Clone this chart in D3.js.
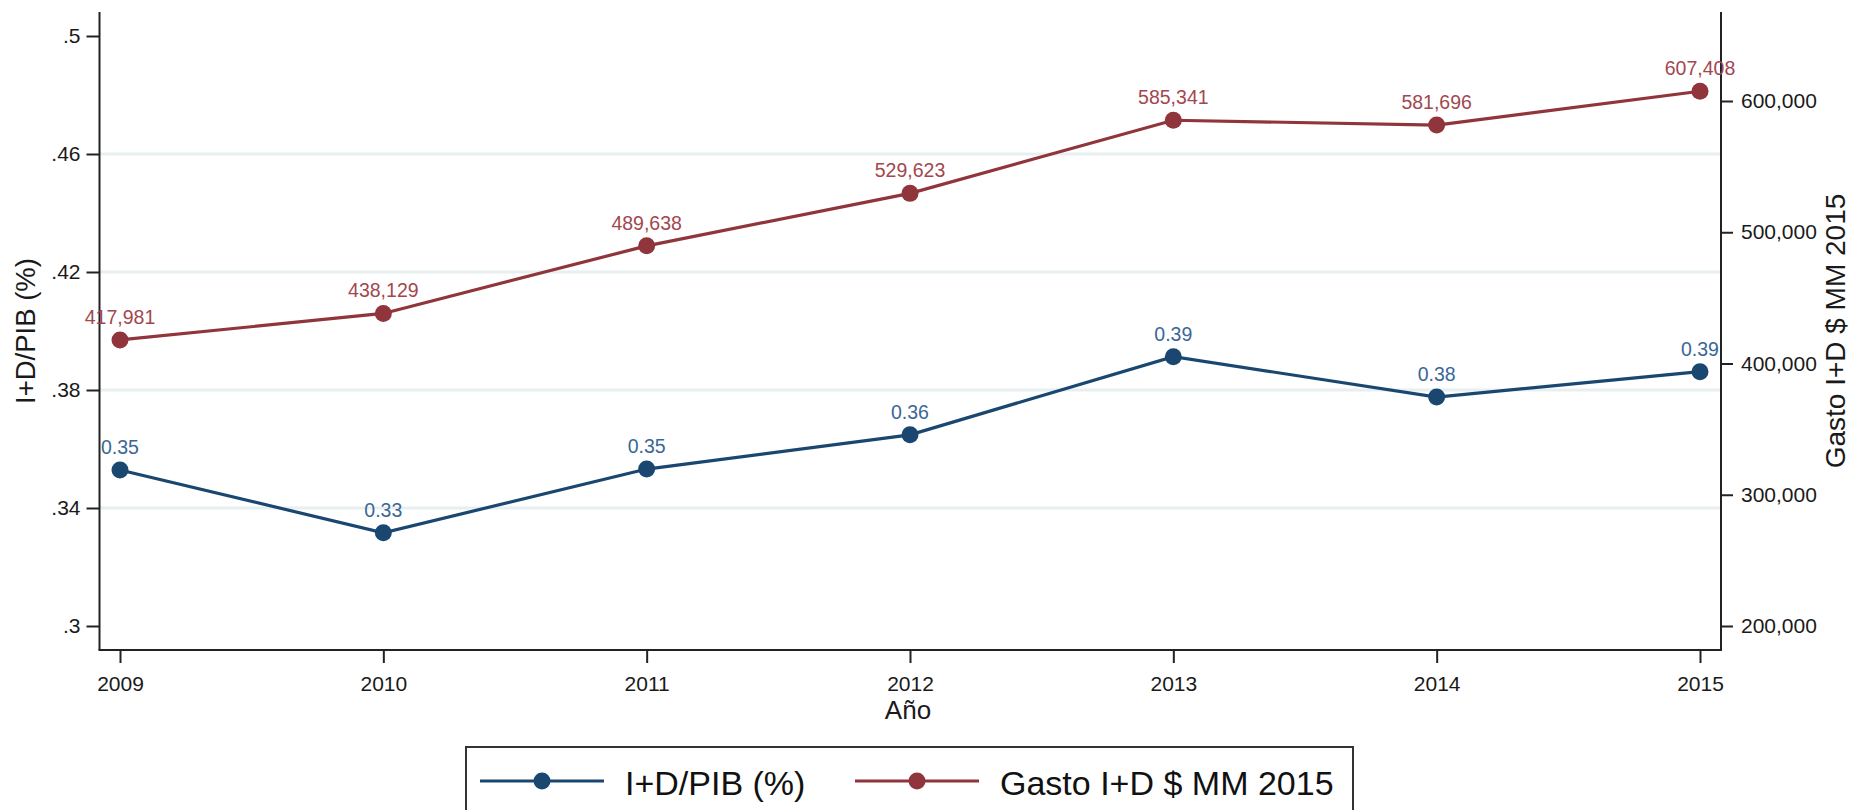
<!DOCTYPE html>
<html>
<head>
<meta charset="utf-8">
<script src="https://cdn.jsdelivr.net/npm/d3@7"></script>
<style>
  html, body { margin: 0; padding: 0; background: #fff; }
  svg { display: block; font-family: "Liberation Sans", Arial, sans-serif; }
</style>
</head>
<body>
<svg id="chart" width="1850" height="810"></svg>
<script>
// ── Data ──────────────────────────────────────────────────────────
const years      = [2009, 2010, 2011, 2012, 2013, 2014, 2015];
const ratioPIB   = [0.3529, 0.3316, 0.3532, 0.3648, 0.3913, 0.3776, 0.3862];
const gastoID    = [417981, 438129, 489638, 529623, 585341, 581696, 607408];
const leftTicks  = [0.3, 0.34, 0.38, 0.42, 0.46, 0.5];
const rightTicks = [200000, 300000, 400000, 500000, 600000];

const BLUE = "#1a476f", RED = "#90353b";
const BLUE_LBL = "#3a6796", RED_LBL = "#a2474f";

// ── Layout ────────────────────────────────────────────────────────
const plot = { left: 99.5, right: 1721, top: 12, bottom: 650 };

const svg = d3.select("#chart");

const x  = d3.scaleLinear().domain([2009, 2015]).range([120, 1700]);
const yL = d3.scaleLinear().domain([0.3, 0.5]).range([626, 36]);
const yR = d3.scaleLinear().domain([200000, 600000]).range([626, 101]);

// gridlines (inner left ticks only)
svg.append("g")
  .selectAll("line")
  .data(leftTicks.slice(1, -1))
  .join("line")
    .attr("x1", plot.left).attr("x2", plot.right)
    .attr("y1", d => yL(d)).attr("y2", d => yL(d))
    .attr("stroke", "#e8eff1")
    .attr("stroke-width", 3);

// ── Axes ─────────────────────────────────────────────────────────
const leftFmt = d => d3.format(".2~f")(d).replace(/^0/, "");

const gL = svg.append("g")
  .attr("transform", `translate(${plot.left},0)`)
  .call(d3.axisLeft(yL).tickValues(leftTicks).tickFormat(leftFmt).tickSize(13).tickPadding(6));

const gR = svg.append("g")
  .attr("transform", `translate(${plot.right},0)`)
  .call(d3.axisRight(yR).tickValues(rightTicks).tickFormat(d3.format(",")).tickSize(12).tickPadding(8));

const gX = svg.append("g")
  .attr("transform", `translate(0,${plot.bottom})`)
  .call(d3.axisBottom(x).tickValues(years).tickFormat(d3.format("d")).tickSize(13).tickPadding(13));

[gL, gR, gX].forEach(g => {
  g.select(".domain").remove();
  g.selectAll(".tick line").attr("stroke", "#222").attr("stroke-width", 2);
  g.selectAll(".tick text")
    .attr("fill", "#1a1a1a")
    .attr("font-size", 21)
    .attr("font-family", "Liberation Sans, Arial, sans-serif");
});

// axis frame lines
const frame = svg.append("g").attr("stroke", "#222").attr("stroke-width", 2).attr("fill", "none");
frame.append("line").attr("x1", plot.left).attr("x2", plot.left).attr("y1", plot.top).attr("y2", plot.bottom);
frame.append("line").attr("x1", plot.right).attr("x2", plot.right).attr("y1", plot.top).attr("y2", plot.bottom);
frame.append("line").attr("x1", plot.left - 1).attr("x2", plot.right + 1).attr("y1", plot.bottom).attr("y2", plot.bottom);

// axis titles
svg.append("text")
  .attr("transform", `translate(35,${(plot.top + plot.bottom) / 2}) rotate(-90)`)
  .attr("text-anchor", "middle")
  .attr("font-size", 27.5)
  .attr("fill", "#1a1a1a")
  .text("I+D/PIB (%)");

svg.append("text")
  .attr("transform", `translate(1845,${(plot.top + plot.bottom) / 2}) rotate(-90)`)
  .attr("text-anchor", "middle")
  .attr("font-size", 28)
  .attr("fill", "#1a1a1a")
  .text("Gasto I+D $ MM 2015");

svg.append("text")
  .attr("x", 908).attr("y", 719)
  .attr("text-anchor", "middle")
  .attr("font-size", 26)
  .attr("fill", "#1a1a1a")
  .text("Año");

// ── Series ───────────────────────────────────────────────────────
function drawSeries(values, yScale, color, lblColor, fmt) {
  const pts = years.map((yr, i) => ({ yr, v: values[i] }));
  const g = svg.append("g");

  g.append("path")
    .datum(pts)
    .attr("fill", "none")
    .attr("stroke", color)
    .attr("stroke-width", 3.2)
    .attr("d", d3.line().x(d => x(d.yr)).y(d => yScale(d.v)));

  g.selectAll("circle")
    .data(pts)
    .join("circle")
      .attr("cx", d => x(d.yr))
      .attr("cy", d => yScale(d.v))
      .attr("r", 8.5)
      .attr("fill", color);

  g.selectAll("text")
    .data(pts)
    .join("text")
      .attr("x", d => x(d.yr))
      .attr("y", d => yScale(d.v) - 16)
      .attr("text-anchor", "middle")
      .attr("font-size", 19.5)
      .attr("fill", lblColor)
      .text(d => fmt(d.v));
}

drawSeries(gastoID, yR, RED, RED_LBL, d3.format(","));
drawSeries(ratioPIB, yL, BLUE, BLUE_LBL, d3.format(".2f"));

// ── Legend ───────────────────────────────────────────────────────
const legend = svg.append("g");
legend.append("rect")
  .attr("x", 466).attr("y", 747)
  .attr("width", 887).attr("height", 100)
  .attr("fill", "#fff")
  .attr("stroke", "#333")
  .attr("stroke-width", 2);

const legendItems = [
  { label: "I+D/PIB (%)",         color: BLUE, x0: 480, x1: 604, tx: 625 },
  { label: "Gasto I+D $ MM 2015", color: RED,  x0: 855, x1: 979, tx: 1000 },
];

legendItems.forEach(it => {
  const ly = 781;
  legend.append("line")
    .attr("x1", it.x0).attr("x2", it.x1)
    .attr("y1", ly).attr("y2", ly)
    .attr("stroke", it.color).attr("stroke-width", 3.2);
  legend.append("circle")
    .attr("cx", (it.x0 + it.x1) / 2).attr("cy", ly)
    .attr("r", 8.5).attr("fill", it.color);
  legend.append("text")
    .attr("x", it.tx).attr("y", 795)
    .attr("font-size", 34)
    .attr("fill", "#111")
    .text(it.label);
});
</script>
</body>
</html>
